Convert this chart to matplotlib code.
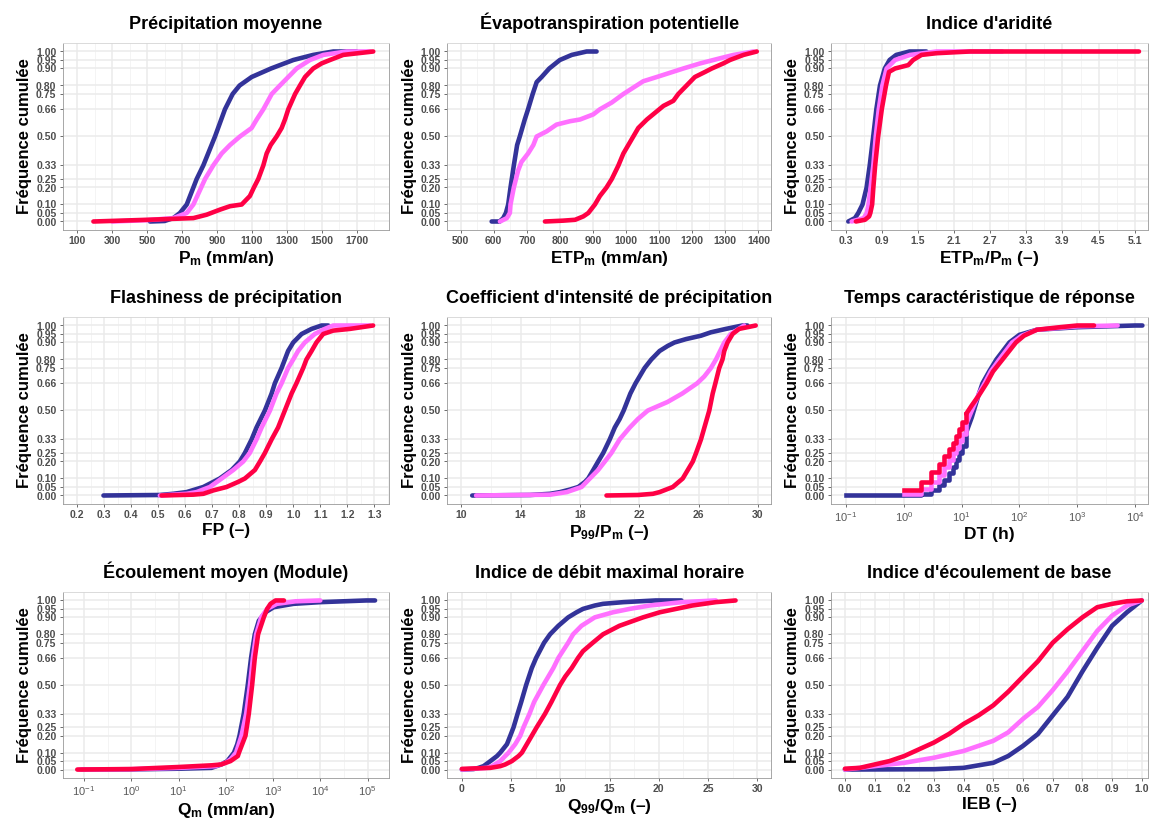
import numpy as np
import matplotlib
matplotlib.use('Agg')
import matplotlib.pyplot as plt
from matplotlib.ticker import FixedLocator, NullFormatter

plt.rcParams['font.family'] = ['Liberation Sans', 'DejaVu Sans']
plt.rcParams['mathtext.fontset'] = 'custom'
plt.rcParams['mathtext.rm'] = 'Liberation Sans'
plt.rcParams['mathtext.bf'] = 'Liberation Sans:bold'
plt.rcParams['mathtext.default'] = 'bf'

# cumulative curves, (value, cumulative frequency)
PM_BLUE = [(516, 0), (600, 0.003), (650, 0.02), (688, 0.05), (727, 0.10), (784, 0.25), (822, 0.33),
           (889, 0.50), (946, 0.66), (990, 0.75), (1030, 0.80), (1099, 0.85), (1210, 0.90),
           (1338, 0.95), (1452, 0.98), (1567, 1.0), (1700, 1.0)]
PM_VIOLET = [(300, 0), (500, 0.008), (650, 0.02), (727, 0.05), (765, 0.10), (832, 0.25), (879, 0.33),
             (927, 0.40), (975, 0.45), (1032, 0.50), (1099, 0.55), (1128, 0.60), (1166, 0.66),
             (1214, 0.75), (1261, 0.80), (1309, 0.85), (1357, 0.90), (1433, 0.95), (1510, 0.98),
             (1643, 1.0), (1780, 1.0)]
PM_RED = [(192, 0), (500, 0.01), (765, 0.02), (841, 0.04), (918, 0.07), (975, 0.09), (1042, 0.10),
          (1089, 0.15), (1112, 0.20), (1137, 0.25), (1166, 0.33), (1185, 0.40), (1208, 0.45),
          (1242, 0.50), (1271, 0.55), (1290, 0.60), (1309, 0.66), (1348, 0.75), (1376, 0.80),
          (1405, 0.85), (1452, 0.90), (1500, 0.93), (1548, 0.95), (1624, 0.98), (1796, 1.0)]

ETP_BLUE = [(594, 0), (618, 0), (629, 0.02), (637, 0.05), (644, 0.10), (651, 0.20), (661, 0.33),
            (671, 0.45), (679, 0.50), (694, 0.60), (704, 0.66), (718, 0.75), (730, 0.82), (745, 0.85),
            (768, 0.90), (800, 0.95), (836, 0.98), (881, 1.0), (911, 1.0)]
ETP_VIOLET = [(619, 0), (640, 0.02), (649, 0.05), (651, 0.10), (661, 0.20), (674, 0.30), (684, 0.35),
              (704, 0.40), (720, 0.45), (730, 0.50), (760, 0.53), (790, 0.57), (831, 0.59),
              (861, 0.60), (901, 0.63), (921, 0.66), (957, 0.70), (992, 0.75), (1032, 0.80),
              (1052, 0.825), (1093, 0.85), (1133, 0.875), (1173, 0.90), (1224, 0.93), (1284, 0.96),
              (1325, 0.98), (1385, 1.0)]
ETP_RED = [(755, 0), (810, 0.005), (846, 0.01), (871, 0.03), (886, 0.05), (906, 0.10), (921, 0.15),
           (941, 0.20), (957, 0.25), (977, 0.33), (992, 0.40), (1007, 0.45), (1022, 0.50),
           (1037, 0.55), (1063, 0.60), (1088, 0.64), (1113, 0.68), (1143, 0.71), (1158, 0.75),
           (1183, 0.80), (1208, 0.85), (1239, 0.88), (1259, 0.90), (1294, 0.93), (1314, 0.95),
           (1355, 0.98), (1395, 1.0)]

AI_BLUE = [(0.344, 0), (0.455, 0.02), (0.51, 0.05), (0.58, 0.10), (0.648, 0.20), (0.70, 0.33),
           (0.758, 0.50), (0.81, 0.66), (0.87, 0.80), (0.95, 0.90), (1.03, 0.95), (1.14, 0.98),
           (1.36, 1.0), (1.64, 1.0)]
AI_VIOLET = [(0.40, 0), (0.60, 0.02), (0.65, 0.05), (0.68, 0.10), (0.76, 0.33), (0.80, 0.50),
             (0.85, 0.66), (0.91, 0.80), (0.98, 0.90), (1.12, 0.95), (1.37, 0.98), (1.81, 1.0),
             (2.9, 1.0)]
AI_RED = [(0.47, 0), (0.62, 0.01), (0.69, 0.03), (0.71, 0.05), (0.74, 0.10), (0.76, 0.20),
          (0.79, 0.33), (0.84, 0.50), (0.90, 0.66), (0.97, 0.80), (1.02, 0.88), (1.12, 0.90),
          (1.23, 0.91), (1.34, 0.92), (1.42, 0.95), (1.56, 0.98), (1.81, 0.99), (2.36, 1.0),
          (5.17, 1.0)]

FP_BLUE = [(0.297, 0), (0.506, 0.003), (0.555, 0.01), (0.605, 0.02), (0.667, 0.05), (0.704, 0.08),
           (0.728, 0.10), (0.772, 0.15), (0.802, 0.20), (0.821, 0.25), (0.846, 0.33), (0.864, 0.40),
           (0.895, 0.50), (0.920, 0.60), (0.932, 0.66), (0.957, 0.75), (0.969, 0.80), (0.981, 0.85),
           (1.0, 0.90), (1.031, 0.95), (1.068, 0.98), (1.105, 1.0), (1.13, 1.0)]
FP_VIOLET = [(0.506, 0), (0.605, 0.01), (0.642, 0.02), (0.691, 0.05), (0.735, 0.10), (0.778, 0.15),
             (0.815, 0.20), (0.839, 0.25), (0.864, 0.33), (0.883, 0.40), (0.914, 0.50),
             (0.938, 0.60), (0.957, 0.66), (0.981, 0.75), (1.0, 0.80), (1.018, 0.85),
             (1.043, 0.90), (1.080, 0.95), (1.117, 0.98), (1.148, 1.0), (1.284, 1.0)]
FP_RED = [(0.512, 0), (0.63, 0.005), (0.667, 0.01), (0.704, 0.03), (0.753, 0.05), (0.796, 0.08),
          (0.821, 0.10), (0.858, 0.15), (0.877, 0.20), (0.895, 0.25), (0.920, 0.33), (0.944, 0.40),
          (0.969, 0.50), (0.994, 0.60), (1.012, 0.66), (1.037, 0.75), (1.049, 0.80), (1.068, 0.85),
          (1.086, 0.90), (1.111, 0.95), (1.148, 0.97), (1.210, 0.98), (1.296, 1.0)]

CIP_BLUE = [(10.74, 0), (14.65, 0.003), (15.99, 0.01), (16.66, 0.02), (17.33, 0.035), (17.89, 0.05),
            (18.34, 0.08), (18.56, 0.10), (18.90, 0.15), (19.23, 0.20), (19.57, 0.25), (20.01, 0.33),
            (20.35, 0.40), (20.68, 0.45), (20.95, 0.50), (21.40, 0.60), (21.75, 0.66), (22.36, 0.75),
            (22.81, 0.80), (23.37, 0.85), (23.92, 0.88), (24.37, 0.90), (25.15, 0.92), (26.16, 0.94),
            (26.83, 0.96), (27.84, 0.98), (28.95, 1.0), (29.29, 1.0)]
CIP_VIOLET = [(11.0, 0), (16.0, 0.005), (17.11, 0.02), (18.11, 0.05), (18.67, 0.10), (19.23, 0.15),
              (19.68, 0.20), (20.12, 0.25), (20.68, 0.33), (21.36, 0.40), (21.91, 0.45),
              (22.58, 0.50), (23.9, 0.55), (24.9, 0.60), (25.9, 0.66), (26.38, 0.70), (26.83, 0.75),
              (27.17, 0.80), (27.45, 0.85), (27.73, 0.90), (28.17, 0.95), (29.07, 1.0)]
CIP_RED = [(19.79, 0), (21.91, 0.003), (22.92, 0.01), (23.37, 0.02), (24.26, 0.05), (24.93, 0.10),
           (25.27, 0.15), (25.61, 0.20), (25.83, 0.25), (26.16, 0.33), (26.39, 0.40), (26.72, 0.50),
           (26.95, 0.60), (27.13, 0.66), (27.39, 0.75), (27.61, 0.80), (27.73, 0.85), (27.95, 0.90),
           (28.29, 0.95), (28.73, 0.98), (29.85, 1.0)]

DT_BLUE = [(0.1, 0), (1, 0.005), (2, 0.01), (3, 0.03), (4, 0.06), (5, 0.09), (6, 0.13), (7, 0.17),
           (8, 0.21), (9, 0.25), (10, 0.29), (12, 0.37), (15, 0.46), (20, 0.60), (23, 0.66),
           (30, 0.73), (40, 0.80), (67, 0.90), (100, 0.945), (200, 0.975), (1000, 0.99),
           (10000, 1.0), (13400, 1.0)]
DT_VIOLET = [(1, 0.01), (2, 0.04), (3, 0.08), (4, 0.12), (5, 0.17), (6, 0.21), (7, 0.25),
             (8, 0.28), (9, 0.32), (10, 0.36), (12, 0.42), (15, 0.50), (20, 0.60), (25, 0.66),
             (32, 0.73), (45, 0.80), (75, 0.90), (110, 0.94), (200, 0.975), (1000, 0.995),
             (5000, 1.0)]
DT_RED = [(1, 0.03), (2, 0.08), (3, 0.14), (4, 0.185), (5, 0.234), (6, 0.273), (7, 0.31),
          (8, 0.35), (9, 0.39), (10, 0.43), (12, 0.48), (15, 0.53), (20, 0.59), (27, 0.66),
          (35, 0.73), (51, 0.80), (87, 0.90), (120, 0.94), (200, 0.975), (500, 0.99), (1000, 1.0),
          (1950, 1.0)]

QM_BLUE = [(0.09, 0), (1, 0.001), (10, 0.005), (50, 0.01), (80, 0.03), (108, 0.05), (149, 0.10),
           (175, 0.15), (195, 0.20), (240, 0.33), (292, 0.50), (343, 0.66), (411, 0.80), (500, 0.88),
           (690, 0.93), (1030, 0.96), (2700, 0.98), (10000, 0.99), (95000, 1.0), (144000, 1.0)]
QM_VIOLET = [(0.08, 0), (1, 0.002), (10, 0.01), (60, 0.02), (100, 0.04), (126, 0.06), (165, 0.10),
             (215, 0.20), (270, 0.33), (325, 0.50), (375, 0.66), (440, 0.80), (560, 0.90),
             (750, 0.95), (1200, 0.98), (3000, 0.995), (10000, 1.0)]
QM_RED = [(0.072, 0), (1, 0.003), (10, 0.015), (50, 0.025), (80, 0.03), (100, 0.04), (126, 0.05),
          (180, 0.08), (190, 0.10), (261, 0.20), (307, 0.33), (361, 0.50), (411, 0.66), (483, 0.80),
          (637, 0.90), (750, 0.95), (883, 0.98), (1128, 1.0), (1700, 1.0)]

QX_BLUE = [(0, 0), (1.2, 0.003), (1.7, 0.01), (2.2, 0.02), (2.9, 0.05), (3.57, 0.08), (3.9, 0.10),
           (4.58, 0.15), (4.92, 0.20), (5.25, 0.25), (5.66, 0.33), (6.03, 0.40), (6.53, 0.50),
           (7.1, 0.60), (7.54, 0.66), (8.35, 0.75), (8.96, 0.80), (9.8, 0.85), (10.8, 0.90),
           (11.65, 0.93), (12.3, 0.95), (13.5, 0.97), (14.34, 0.98), (16.4, 0.99), (19.7, 1.0),
           (22.3, 1.0)]
QX_VIOLET = [(0, 0), (2.56, 0.01), (3.06, 0.02), (3.9, 0.05), (4.4, 0.08), (4.75, 0.10), (5.42, 0.15),
             (5.93, 0.20), (6.26, 0.25), (6.87, 0.33), (7.34, 0.40), (8.28, 0.50), (9.29, 0.60),
             (9.8, 0.66), (10.8, 0.75), (11.3, 0.80), (12.15, 0.85), (13.5, 0.90), (15.35, 0.93),
             (17.04, 0.95), (19.06, 0.97), (20.7, 0.98), (22.4, 0.99), (25.8, 1.0)]
QX_RED = [(0, 0.004), (2.9, 0.01), (3.9, 0.02), (4.4, 0.03), (5.08, 0.05), (5.76, 0.08), (6.1, 0.10),
          (6.6, 0.15), (7.1, 0.20), (7.6, 0.25), (8.45, 0.33), (9.1, 0.40), (9.97, 0.50),
          (10.5, 0.55), (11.15, 0.60), (11.8, 0.66), (12.3, 0.70), (13.3, 0.75), (14.34, 0.80),
          (16.0, 0.85), (18.4, 0.90), (20.1, 0.93), (21.75, 0.95), (23.4, 0.97), (25.8, 0.99),
          (27.8, 1.0)]

IEB_BLUE = [(0.0, 0), (0.3, 0.002), (0.4, 0.01), (0.5, 0.04), (0.55, 0.08), (0.6, 0.14), (0.65, 0.21),
            (0.7, 0.32), (0.75, 0.43), (0.8, 0.58), (0.85, 0.72), (0.9, 0.85), (0.95, 0.93), (1.0, 1.0)]
IEB_VIOLET = [(0.0, 0), (0.1, 0.02), (0.2, 0.04), (0.3, 0.07), (0.4, 0.11), (0.5, 0.17), (0.55, 0.22),
              (0.6, 0.30), (0.65, 0.37), (0.7, 0.47), (0.75, 0.58), (0.8, 0.70), (0.85, 0.82),
              (0.9, 0.91), (0.95, 0.97), (1.0, 1.0)]
IEB_RED = [(0.0, 0.005), (0.05, 0.01), (0.1, 0.03), (0.15, 0.05), (0.2, 0.08), (0.25, 0.12), (0.3, 0.16),
           (0.35, 0.21), (0.4, 0.27), (0.45, 0.32), (0.5, 0.38), (0.55, 0.46), (0.6, 0.55),
           (0.65, 0.64), (0.7, 0.75), (0.75, 0.83), (0.8, 0.90), (0.85, 0.96), (0.9, 0.98),
           (0.95, 0.995), (1.0, 1.0)]

Y_TICKS = [0.00, 0.05, 0.10, 0.20, 0.25, 0.33, 0.50, 0.66, 0.75, 0.80, 0.90, 0.95, 1.00]
COLORS = ['#333399', '#FF70FF', '#FF0045']

TITLES = ['Précipitation moyenne', 'Évapotranspiration potentielle', "Indice d'aridité",
          'Flashiness de précipitation', "Coefficient d'intensité de précipitation",
          'Temps caractéristique de réponse', 'Écoulement moyen (Module)',
          'Indice de débit maximal horaire', "Indice d'écoulement de base"]
XLABELS = [r'P$_{m}$ (mm/an)', r'ETP$_{m}$ (mm/an)', r'ETP$_{m}$/P$_{m}$ (–)',
           'FP (–)', r'P$_{99}$/P$_{m}$ (–)', 'DT (h)',
           r'Q$_{m}$ (mm/an)', r'Q$_{99}$/Q$_{m}$ (–)', 'IEB (–)']
SERIES = [(PM_BLUE, PM_VIOLET, PM_RED), (ETP_BLUE, ETP_VIOLET, ETP_RED), (AI_BLUE, AI_VIOLET, AI_RED),
          (FP_BLUE, FP_VIOLET, FP_RED), (CIP_BLUE, CIP_VIOLET, CIP_RED), (DT_BLUE, DT_VIOLET, DT_RED),
          (QM_BLUE, QM_VIOLET, QM_RED), (QX_BLUE, QX_VIOLET, QX_RED), (IEB_BLUE, IEB_VIOLET, IEB_RED)]
XTICKS = [np.arange(100, 1701, 200), np.arange(500, 1401, 100), np.arange(0.3, 5.11, 0.6),
          np.arange(0.2, 1.31, 0.1), np.arange(10, 31, 4), 10.0 ** np.arange(-1, 5),
          10.0 ** np.arange(-1, 6), np.arange(0, 31, 5), np.arange(0, 1.01, 0.1)]
XFMT = ['%d', '%d', '%.1f', '%.1f', '%d', 'log', 'log', '%d', '%.1f']
XLIMS = [(16, 1888), (460, 1438), (0.052, 5.32), (0.146, 1.356), (9.06, 30.88),
         (10 ** -1.264, 10 ** 4.224), (10 ** -1.451, 10 ** 5.46), (-1.48, 31.4), (-0.048, 1.021)]

W, H = 1149, 821
COLS = [(62.7, 389.3), (447.3, 771.0), (830.7, 1148.0)]
ROWS = [(43, 230), (317, 504), (592, 778)]

fig = plt.figure(figsize=(W / 100, H / 100), dpi=100)
fig.patch.set_facecolor('white')

for i in range(9):
    l, r = COLS[i % 3]
    t, b = ROWS[i // 3]
    ax = fig.add_axes([l / W, 1 - b / H, (r - l) / W, (b - t) / H])
    log = XFMT[i] == 'log'
    if log:
        ax.set_xscale('log')

    for pts, col in zip(SERIES[i], COLORS):
        x = np.array([p[0] for p in pts], dtype=float)
        f = np.array([p[1] for p in pts], dtype=float)
        if i == 5:
            # response time is discrete in hours at the low end
            m = x <= 12
            ax.plot(x[m], f[m], color=col, lw=3.3, drawstyle='steps-post', zorder=3)
            m = x >= 12
            ax.plot(x[m], f[m], color=col, lw=3.3, zorder=3, solid_capstyle='round')
        else:
            ax.plot(x, f, color=col, lw=3.3, zorder=3, solid_capstyle='round')

    ax.set_xlim(*XLIMS[i])
    ax.set_ylim(-0.05, 1.05)
    ticks = XTICKS[i]
    ax.set_xticks(ticks)
    if log:
        ax.set_xticklabels([r'$\mathregular{10^{%d}}$' % round(np.log10(v)) for v in ticks],
                           fontweight='normal', color='#5A5A5A', fontsize=8)
        minor = 10.0 ** (np.log10(ticks[:-1]) + 0.5)
    else:
        ax.set_xticklabels([XFMT[i] % v for v in ticks], fontweight='bold',
                           color='#4D4D4D', fontsize=7.5)
        step = ticks[1] - ticks[0]
        minor = np.concatenate([[ticks[0] - step / 2], ticks + step / 2])
    ax.xaxis.set_minor_locator(FixedLocator(minor))
    ax.xaxis.set_minor_formatter(NullFormatter())
    ax.set_yticks(Y_TICKS)
    ax.set_yticklabels(['%.2f' % v for v in Y_TICKS], fontweight='bold',
                       color='#4D4D4D', fontsize=7.5)

    ax.grid(True, which='major', color='#EBEBEB', lw=1.1, zorder=0)
    ax.grid(True, which='minor', axis='x', color='#F2F2F2', lw=0.6, zorder=0)
    ax.set_axisbelow(True)
    ax.tick_params(axis='both', which='major', length=2.5, width=0.6, color='#555555', pad=2)
    ax.tick_params(axis='x', which='minor', length=0)

    for side in ['left', 'right', 'bottom']:
        ax.spines[side].set_color('#999999')
        ax.spines[side].set_linewidth(0.6)
        ax.spines[side].set_linestyle((0, (2, 1)))
    ax.spines['top'].set_color('#D5D5D5')
    ax.spines['top'].set_linewidth(0.6)

    ax.set_title(TITLES[i], fontsize=13, fontweight='bold', pad=10)
    ax.set_xlabel(XLABELS[i], fontsize=12.5, fontweight='bold', labelpad=2)
    ax.set_ylabel('Fréquence cumulée', fontsize=12, fontweight='bold', labelpad=3)

fig.savefig('out.png', dpi=100)
